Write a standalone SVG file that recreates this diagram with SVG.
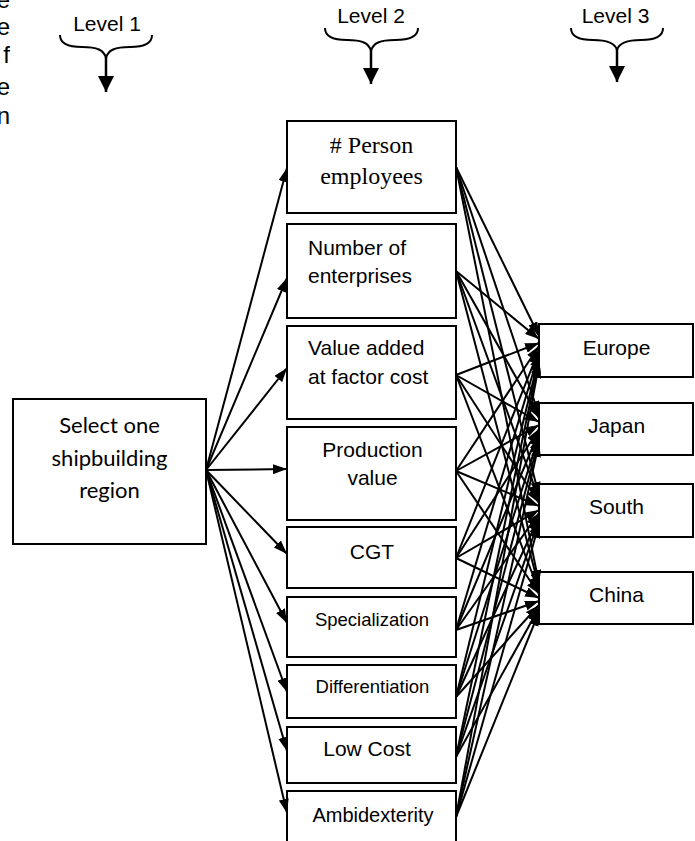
<svg xmlns="http://www.w3.org/2000/svg" width="695" height="841" viewBox="0 0 695 841">
<style>
.box{fill:#fff;stroke:#000;stroke-width:2}
.t{font-family:"Liberation Sans",Arial,sans-serif;font-size:21px;fill:#000}
.c{text-anchor:middle}
.serif{font-family:"Liberation Serif","Times New Roman",serif;font-size:24px}
.cal{font-family:Lato,"Liberation Sans",sans-serif;font-size:22px}
.conn line{stroke:#000;stroke-width:2;marker-end:url(#ah)}
.brace{fill:none;stroke:#000;stroke-width:2}
.shaft{stroke:#000;stroke-width:2.5;marker-end:url(#big)}
</style>
<defs>
<marker id="ah" viewBox="0 0 14 10" refX="14" refY="5" markerWidth="14" markerHeight="10" markerUnits="userSpaceOnUse" orient="auto">
<path d="M0,0 L14,5 L0,10 z" fill="#000"/>
</marker>
<marker id="big" viewBox="0 0 16 16" refX="16" refY="8" markerWidth="16" markerHeight="16" markerUnits="userSpaceOnUse" orient="auto">
<path d="M0,0 L16,8 L0,16 z" fill="#000"/>
</marker>
</defs>
<rect width="695" height="841" fill="#fff"/>
<g id="margin-text" class="t" style="font-size:24px" text-anchor="end">
<text x="10" y="8">e</text>
<text x="10" y="35">e</text>
<text x="10" y="63">f</text>
<text x="10" y="95">e</text>
<text x="10" y="124">n</text>
</g>
<g id="level1">
<text class="t c" x="107" y="31">Level 1</text>
<path class="brace" d="M60,35 C60,44 68,47 82,47 C97,47 104,50 106,58 C108,50 115,47 130,47 C144,47 152,44 152,35"/>
<line class="shaft" x1="106" y1="57" x2="106" y2="92"/>
</g>
<g id="level2">
<text class="t c" x="371" y="23">Level 2</text>
<path class="brace" d="M325,28 C325,37 333,40 347,40 C362,40 369,43 371,51 C373,43 380,40 395,40 C409,40 418,37 418,28"/>
<line class="shaft" x1="371" y1="50" x2="371" y2="84"/>
</g>
<g id="level3">
<text class="t c" x="615.5" y="23">Level 3</text>
<path class="brace" d="M571,28 C571,37 579,40 593,40 C608,40 615,43 617,50 C619,43 626,40 641,40 C655,40 663,37 663,28"/>
<line class="shaft" x1="617" y1="49" x2="617" y2="82"/>
</g>
<g id="select">
<rect class="box" x="13" y="399" width="193" height="145"/>
<text class="t cal c" x="109.5" y="433">Select one</text>
<text class="t cal c" x="109.5" y="466">shipbuilding</text>
<text class="t cal c" x="109.5" y="498">region</text>
</g>
<g id="person">
<rect class="box" x="287" y="121" width="169" height="92"/>
<text class="t serif c" x="371.5" y="153"># Person</text>
<text class="t serif c" x="371.5" y="184">employees</text>
</g>
<g id="enterprises">
<rect class="box" x="287" y="224" width="169" height="94"/>
<text class="t" x="308" y="255">Number of</text>
<text class="t" x="308" y="283">enterprises</text>
</g>
<g id="valueadded">
<rect class="box" x="287" y="326" width="169" height="93"/>
<text class="t" x="308" y="355">Value added</text>
<text class="t" x="308" y="384">at factor cost</text>
</g>
<g id="production">
<rect class="box" x="287" y="427" width="169" height="93"/>
<text class="t c" x="372.5" y="457">Production</text>
<text class="t c" x="372.5" y="485">value</text>
</g>
<g id="cgt">
<rect class="box" x="287" y="527" width="169" height="61"/>
<text class="t c" x="372" y="559">CGT</text>
</g>
<g id="specialization">
<rect class="box" x="287" y="597" width="169" height="60"/>
<text class="t c" x="372" y="626" style="font-size:18.5px">Specialization</text>
</g>
<g id="differentiation">
<rect class="box" x="287" y="665" width="169" height="53"/>
<text class="t c" x="372.5" y="693" style="font-size:18.5px">Differentiation</text>
</g>
<g id="lowcost">
<rect class="box" x="287" y="727" width="169" height="56"/>
<text class="t c" x="367" y="756">Low Cost</text>
</g>
<g id="ambidexterity">
<rect class="box" x="287" y="791" width="169" height="54"/>
<text class="t c" x="373" y="822" style="font-size:20px">Ambidexterity</text>
</g>
<g id="europe">
<rect class="box" x="539" y="324" width="154" height="53"/>
<text class="t c" x="616.5" y="355">Europe</text>
</g>
<g id="japan">
<rect class="box" x="539" y="403" width="154" height="52"/>
<text class="t c" x="616.5" y="433">Japan</text>
</g>
<g id="south">
<rect class="box" x="539" y="484" width="154" height="53"/>
<text class="t c" x="616.5" y="514">South</text>
</g>
<g id="china">
<rect class="box" x="539" y="572" width="154" height="52"/>
<text class="t c" x="616.5" y="602">China</text>
</g>
<g id="connectors" class="conn">
<line x1="206" y1="470" x2="287" y2="168"/>
<line x1="206" y1="470" x2="287" y2="278"/>
<line x1="206" y1="470" x2="287" y2="368"/>
<line x1="206" y1="470" x2="287" y2="469"/>
<line x1="206" y1="470" x2="287" y2="554"/>
<line x1="206" y1="470" x2="287" y2="623"/>
<line x1="206" y1="470" x2="287" y2="692"/>
<line x1="206" y1="470" x2="287" y2="751"/>
<line x1="206" y1="470" x2="287" y2="813"/>

<line x1="456" y1="167" x2="539" y2="336"/>
<line x1="456" y1="167" x2="539" y2="415"/>
<line x1="456" y1="167" x2="539" y2="496"/>
<line x1="456" y1="167" x2="539" y2="584"/>
<line x1="456" y1="271" x2="539" y2="339"/>
<line x1="456" y1="271" x2="539" y2="418"/>
<line x1="456" y1="271" x2="539" y2="499"/>
<line x1="456" y1="271" x2="539" y2="587"/>
<line x1="456" y1="375" x2="539" y2="343"/>
<line x1="456" y1="375" x2="539" y2="422"/>
<line x1="456" y1="375" x2="539" y2="503"/>
<line x1="456" y1="375" x2="539" y2="591"/>
<line x1="456" y1="471" x2="539" y2="346"/>
<line x1="456" y1="471" x2="539" y2="425"/>
<line x1="456" y1="471" x2="539" y2="506"/>
<line x1="456" y1="471" x2="539" y2="594"/>
<line x1="456" y1="558" x2="539" y2="350"/>
<line x1="456" y1="558" x2="539" y2="429"/>
<line x1="456" y1="558" x2="539" y2="510"/>
<line x1="456" y1="558" x2="539" y2="598"/>
<line x1="456" y1="630" x2="539" y2="353"/>
<line x1="456" y1="630" x2="539" y2="432"/>
<line x1="456" y1="630" x2="539" y2="513"/>
<line x1="456" y1="630" x2="539" y2="601"/>
<line x1="456" y1="697" x2="539" y2="357"/>
<line x1="456" y1="697" x2="539" y2="436"/>
<line x1="456" y1="697" x2="539" y2="517"/>
<line x1="456" y1="697" x2="539" y2="605"/>
<line x1="456" y1="757" x2="539" y2="360"/>
<line x1="456" y1="757" x2="539" y2="439"/>
<line x1="456" y1="757" x2="539" y2="520"/>
<line x1="456" y1="757" x2="539" y2="608"/>
<line x1="456" y1="817" x2="539" y2="364"/>
<line x1="456" y1="817" x2="539" y2="443"/>
<line x1="456" y1="817" x2="539" y2="524"/>
<line x1="456" y1="817" x2="539" y2="612"/>
</g>
</svg>
